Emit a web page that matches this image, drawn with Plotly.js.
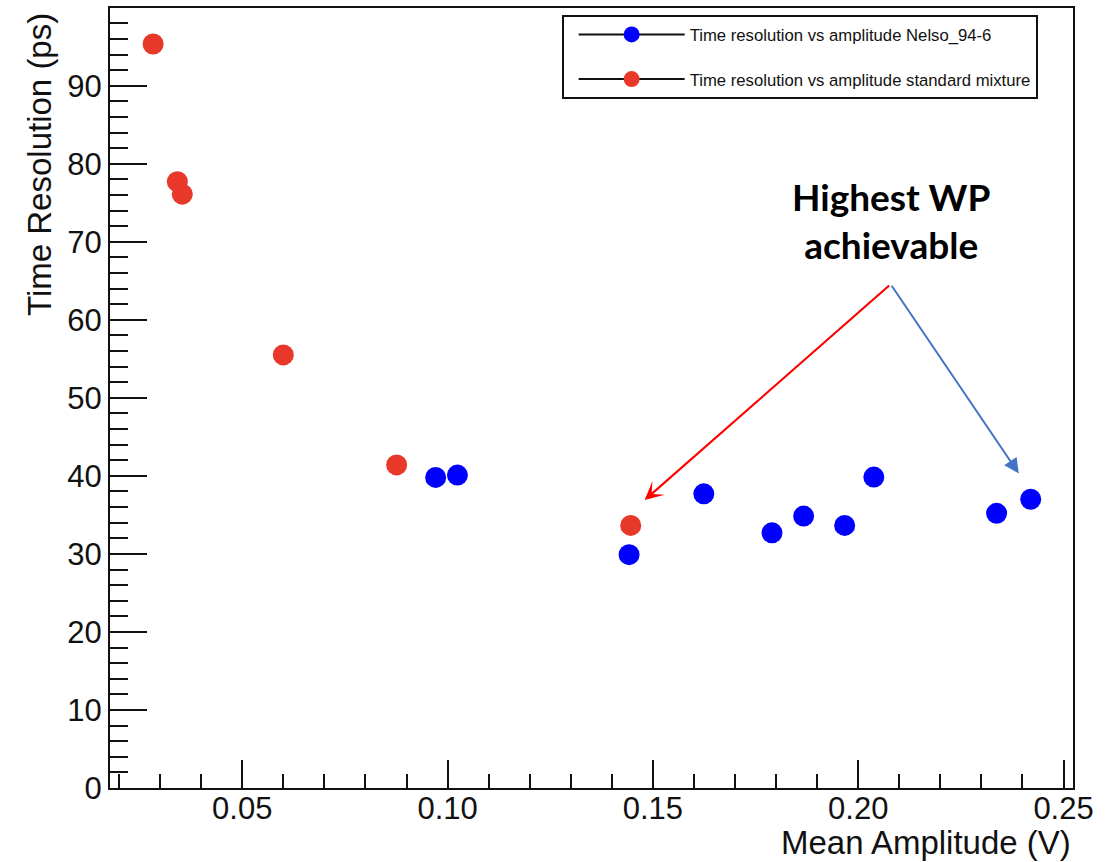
<!DOCTYPE html>
<html>
<head>
<meta charset="utf-8">
<script src="https://cdn.plot.ly/plotly-3.0.1.min.js"></script>
<style>
  html, body { margin: 0; padding: 0; background: #ffffff; }
  #chart { width: 1120px; height: 862px; }
</style>
</head>
<body>
<div id="chart"></div>
<script>
// ---- data ----
const amplitudeNelso = [0.0971, 0.1024, 0.1442, 0.1624, 0.1790, 0.1867, 0.1967, 0.2038, 0.2337, 0.2420];
const resolutionNelso = [39.8, 40.1, 29.9, 37.7, 32.7, 34.85, 33.65, 39.85, 35.2, 37.0];
const amplitudeStd = [0.0283, 0.0342, 0.0354, 0.0600, 0.0876, 0.1446];
const resolutionStd = [95.35, 77.7, 76.1, 55.5, 41.4, 33.65];

const seriesNames = [
  'Time resolution vs amplitude Nelso_94-6',
  'Time resolution vs amplitude standard mixture'
];
const xTitle = 'Mean Amplitude (V)';
const yTitle = 'Time Resolution (ps)';
const noteText = 'Highest WP<br>achievable';

// annotation arrow geometry (data coordinates)
const arrowTail = [0.2079, 64.56];
const arrowTipStd = [0.1480, 36.9];
const arrowTipNelso = [0.2391, 40.3];

const BLUE = '#0000ff';
const RED = '#e8382a';
const INK = '#111111';
const MS = 21;

const traces = [
  {
    x: amplitudeStd, y: resolutionStd, type: 'scatter', mode: 'markers',
    marker: { color: RED, size: MS }, showlegend: false, hoverinfo: 'x+y'
  },
  {
    x: amplitudeNelso, y: resolutionNelso, type: 'scatter', mode: 'markers',
    marker: { color: BLUE, size: MS }, showlegend: false, hoverinfo: 'x+y'
  },
  // legend entries (ROOT-style line + marker symbol)
  {
    x: [null], y: [null], type: 'scatter', mode: 'lines+markers', name: seriesNames[0],
    legendgroup: 'nelso',
    line: { color: INK, width: 2 }, marker: { color: BLUE, size: MS }
  },
  {
    x: [null], y: [null], type: 'scatter', mode: 'lines+markers', name: seriesNames[1],
    legendgroup: 'std',
    line: { color: INK, width: 2 }, marker: { color: RED, size: MS }
  }
];

const tickFont = { family: 'Liberation Sans, Arial, sans-serif', size: 31, color: INK };

const layout = {
  width: 1120, height: 862,
  margin: { l: 110, r: 46.5, t: 8, b: 74.3 },
  paper_bgcolor: '#ffffff', plot_bgcolor: '#ffffff',
  font: { family: 'Liberation Sans, Arial, sans-serif', color: INK },
  xaxis: {
    range: [0.0178, 0.2523], tick0: 0, dtick: 0.05, tickformat: '.2f',
    ticks: 'inside', ticklen: 28, tickwidth: 2, tickcolor: INK,
    showline: true, mirror: true, linewidth: 2, linecolor: INK,
    showgrid: false, zeroline: false, tickfont: tickFont, ticklabelstandoff: -8,
    minor: { ticks: 'inside', tick0: 0, dtick: 0.01, ticklen: 14, tickwidth: 2, tickcolor: INK, showgrid: false }
  },
  yaxis: {
    range: [0, 99.96], tick0: 0, dtick: 10,
    ticks: 'inside', ticklen: 37, tickwidth: 2, tickcolor: INK,
    showline: true, mirror: true, linewidth: 2, linecolor: INK,
    showgrid: false, zeroline: false, tickfont: tickFont,
    minor: { ticks: 'inside', tick0: 0, dtick: 2, ticklen: 18, tickwidth: 2, tickcolor: INK, showgrid: false }
  },
  legend: {
    x: 0.469, y: 0.991, xanchor: 'left', yanchor: 'top',
    bgcolor: '#ffffff', bordercolor: INK, borderwidth: 2,
    font: { family: 'Liberation Sans, Arial, sans-serif', size: 16.7, color: INK },
    itemwidth: 106, indentation: 10, traceorder: 'grouped', tracegroupgap: 20
  },
  annotations: [
    {
      xref: 'paper', yref: 'paper', x: 1, y: -0.0696, xanchor: 'right', yanchor: 'middle',
      text: xTitle, showarrow: false,
      font: { family: 'Liberation Sans, Arial, sans-serif', size: 33, color: INK }
    },
    {
      xref: 'paper', yref: 'paper', x: -0.0727, y: 0.80, xanchor: 'center', yanchor: 'middle',
      text: yTitle, textangle: -90, showarrow: false,
      font: { family: 'Liberation Sans, Arial, sans-serif', size: 33, color: INK }
    },
    {
      xref: 'paper', yref: 'paper', x: 0.8106, y: 0.727, xanchor: 'center', yanchor: 'middle',
      text: noteText, showarrow: false,
      font: { family: 'Lato, sans-serif', size: 37, color: '#000000', weight: 'bold' }
    },
    {
      xref: 'x', yref: 'y', axref: 'x', ayref: 'y',
      x: arrowTipStd[0], y: arrowTipStd[1], ax: arrowTail[0], ay: arrowTail[1],
      text: '', showarrow: true, arrowhead: 3, arrowsize: 1.4, arrowwidth: 2.2,
      arrowcolor: '#ff0000', standoff: 0, startstandoff: 0
    },
    {
      xref: 'x', yref: 'y', axref: 'x', ayref: 'y',
      x: arrowTipNelso[0], y: arrowTipNelso[1], ax: arrowTail[0], ay: arrowTail[1],
      text: '', showarrow: true, arrowhead: 2, arrowsize: 1.5, arrowwidth: 2,
      arrowcolor: '#4472c4', standoff: 0, startstandoff: 0
    }
  ]
};

Plotly.newPlot('chart', traces, layout, { displayModeBar: false, staticPlot: true });
</script>
</body>
</html>
